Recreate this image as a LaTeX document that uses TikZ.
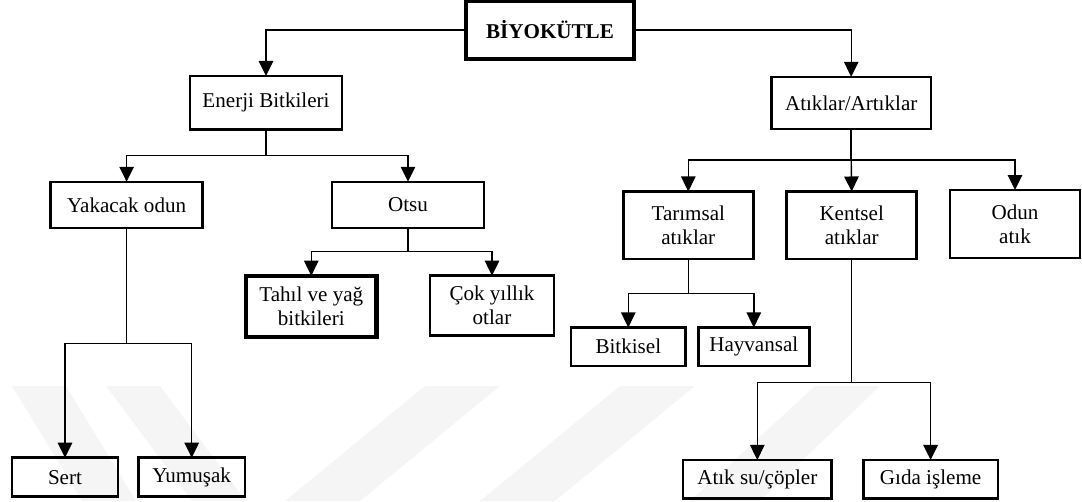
\documentclass[tikz,border=0pt]{standalone}
\usepackage{fontspec}
\setmainfont{Liberation Serif}
\usetikzlibrary{arrows.meta}
\tikzset{
  box/.style={draw, line width=1.4pt, inner sep=0pt, outer sep=0pt, align=center,
    font=\fontsize{12pt}{13.8pt}\selectfont},
  heavybox/.style={box, line width=2.4pt},
  link/.style={line width=0.8pt},
  arr/.style={link, -{Triangle[width=0.29cm,length=0.3cm]}},
  band/.style={fill=gray!8, draw=none}
}
\begin{document}
\begin{tikzpicture}[x=0.02cm, y=-0.02cm]
\useasboundingbox (0,0) rectangle (1082,501);
% faint diagonal background bands
\fill[band] (12,386) -- (66,386) -- (136,501) -- (82,501) -- cycle;
\fill[band] (106,386) -- (160,386) -- (246,501) -- (192,501) -- cycle;
\fill[band] (425,386) -- (500,386) -- (360,501) -- (285,501) -- cycle;
\fill[band] (620,386) -- (695,386) -- (555,501) -- (480,501) -- cycle;
\fill[band] (815,386) -- (880,386) -- (760,501) -- (690,501) -- cycle;

% boxes
\node[heavybox, minimum width=3.35cm, minimum height=1.16cm] (biyo) at (550,30) {\textbf{BİYOKÜTLE}};
\node[box, minimum width=3.03cm, minimum height=1.07cm] (enerji) at (266,102.7) {Enerji Bitkileri};
\node[box, minimum width=3.19cm, minimum height=1.05cm] (atik) at (851.2,103) {Atıklar/Artıklar};
\node[box, minimum width=3.04cm, minimum height=0.93cm] (yakacak) at (126.6,205) {Yakacak odun};
\node[box, minimum width=3.04cm, minimum height=0.93cm] (otsu) at (408,205) {Otsu};
\node[box, minimum width=2.6cm, minimum height=1.35cm] (tarim) at (688.3,225.2) {Tarımsal\\atıklar};
\node[box, minimum width=2.6cm, minimum height=1.35cm] (kent) at (851.7,225.2) {Kentsel\\atıklar};
\node[box, minimum width=2.6cm, minimum height=1.36cm] (odun) at (1015,224) {Odun\\atık};
\node[heavybox, minimum width=2.61cm, minimum height=1.22cm] (tahil) at (311.3,306.2) {Tahıl ve yağ\\bitkileri};
\node[box, minimum width=2.48cm, minimum height=1.2cm] (cok) at (492,305.6) {Çok yıllık\\otlar};
\node[box, minimum width=2.29cm, minimum height=0.77cm] (bitki) at (628.3,346.7) {Bitkisel};
\node[box, minimum width=2.22cm, minimum height=0.77cm] (hayvan) at (753.8,346.7) {Hayvansal};
\node[box, minimum width=2.13cm, minimum height=0.78cm] (sert) at (65,477.2) {Sert};
\node[box, minimum width=2.13cm, minimum height=0.78cm] (yumusak) at (191.7,477.2) {Yumuşak};
\node[box, minimum width=2.97cm, minimum height=0.77cm] (atiksu) at (757.3,479.2) {Atık su/çöpler};
\node[box, minimum width=2.69cm, minimum height=0.77cm] (gida) at (930.6,479.2) {Gıda işleme};

% branch points
\coordinate (jE) at (266,155.3);
\coordinate (jA) at (851.2,160);
\coordinate (jY) at (126.6,343.3);
\coordinate (jO) at (408,251.7);
\coordinate (jT) at (688.3,293.3);
\coordinate (jK) at (851.7,382.3);

% connectors
\draw[arr] (biyo.west) -| (enerji.north);
\draw[arr] (biyo.east) -| (atik.north);

\draw[link] (enerji.south) -- (jE);
\draw[arr] (jE) -| (yakacak.north);
\draw[arr] (jE) -| (otsu.north);

\draw[link, line width=1.2pt] (atik.south) -- (jA);
\draw[arr] (jA) -| (tarim.north);
\draw[arr] (jA) -- (kent.north);
\draw[arr] (jA) -| (odun.north);

\draw[link] (yakacak.south) -- (jY);
\draw[arr] (jY) -| (sert.north);
\draw[arr] (jY) -| (yumusak.north);

\draw[link] (otsu.south) -- (jO);
\draw[arr] (jO) -| (tahil.north);
\draw[arr] (jO) -| (cok.north);

\draw[link] (tarim.south) -- (jT);
\draw[arr] (jT) -| (bitki.north);
\draw[arr] (jT) -| (hayvan.north);

\draw[link] (kent.south) -- (jK);
\draw[arr] (jK) -| (atiksu.north);
\draw[arr] (jK) -| (gida.north);
\end{tikzpicture}
\end{document}
